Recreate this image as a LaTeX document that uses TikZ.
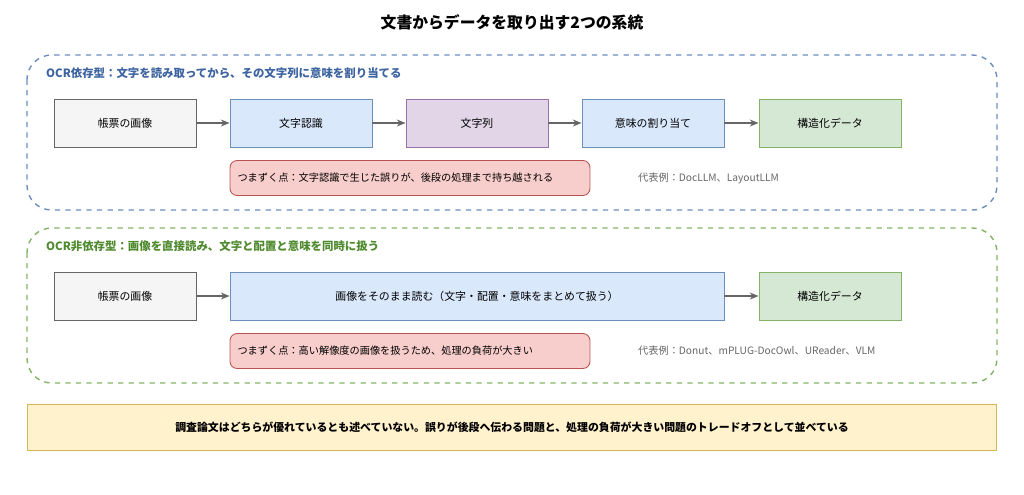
\documentclass[tikz,border=0pt]{standalone}
\usepackage{fontspec}
\setmainfont{Noto Sans CJK JP}
\usetikzlibrary{arrows.meta}
\definecolor{grayF}{HTML}{F5F5F5}\definecolor{grayD}{HTML}{666666}
\definecolor{blueF}{HTML}{DAE8FC}\definecolor{blueD}{HTML}{6C8EBF}
\definecolor{purpF}{HTML}{E1D5E7}\definecolor{purpD}{HTML}{9673A6}
\definecolor{grnF}{HTML}{D5E8D4}\definecolor{grnD}{HTML}{82B366}
\definecolor{redF}{HTML}{F8CECC}\definecolor{redD}{HTML}{B85450}
\definecolor{yelF}{HTML}{FFF2CC}\definecolor{yelD}{HTML}{D6B656}
\definecolor{blueT}{HTML}{3D64A0}\definecolor{grnT}{HTML}{4F8A2E}

\begin{document}
\begin{tikzpicture}[x=0.02cm,y=-0.02cm,
  stage/.style={draw,line width=0.5pt,minimum width=2.84cm,minimum height=0.96cm,
    inner sep=0pt,font=\fontsize{6.2}{7}\selectfont},
  pit/.style={draw=redD,fill=redF,rounded corners=4pt,line width=0.5pt,
    minimum width=7.2cm,minimum height=0.7cm,text width=6.9cm,align=left,
    font=\fontsize{5.8}{7}\selectfont},
  frame/.style={dashed,rounded corners=14pt,line width=0.8pt},
  note/.style={anchor=west,text=grayD,font=\fontsize{5.8}{7}\selectfont},
  lab/.style={anchor=west,font=\bfseries\fontsize{6.5}{8}\selectfont},
  arr/.style={-{Stealth[length=5pt,width=4pt]},draw=grayD,line width=0.6pt}]
  \useasboundingbox (0,0) rectangle (1024,494);

  \node[font=\bfseries\fontsize{9}{11}\selectfont] (title) at (512,22) {文書からデータを取り出す2つの系統};

  % OCR dependent
  \draw[frame,draw=blueD] (27,55) rectangle (997,210);
  \node[lab,text=blueT] (lab1) at (40,73) {OCR依存型：文字を読み取ってから、その文字列に意味を割り当てる};
  \node[stage,draw=grayD,fill=grayF] (img1) at (125,123) {帳票の画像};
  \node[stage,draw=blueD,fill=blueF] (rec) at (301,123) {文字認識};
  \node[stage,draw=purpD,fill=purpF] (str) at (477,123) {文字列};
  \node[stage,draw=blueD,fill=blueF] (sem) at (653,123) {意味の割り当て};
  \node[stage,draw=grnD,fill=grnF] (out1) at (830,123) {構造化データ};
  \draw[arr] (img1) -- (rec);
  \draw[arr] (rec) -- (str);
  \draw[arr] (str) -- (sem);
  \draw[arr] (sem) -- (out1);
  \node[pit] (pit1) at (410,178) {つまずく点：文字認識で生じた誤りが、後段の処理まで持ち越される};
  \node[note] (ex1) at (632,178) {代表例：DocLLM、LayoutLLM};

  % OCR free
  \draw[frame,draw=grnD] (27,228) rectangle (997,383);
  \node[lab,text=grnT] (lab2) at (40,246) {OCR非依存型：画像を直接読み、文字と配置と意味を同時に扱う};
  \node[stage,draw=grayD,fill=grayF] (img2) at (125,296) {帳票の画像};
  \node[stage,draw=blueD,fill=blueF,minimum width=9.88cm] (read) at (477,296) {画像をそのまま読む（文字・配置・意味をまとめて扱う）};
  \node[stage,draw=grnD,fill=grnF] (out2) at (830,296) {構造化データ};
  \draw[arr] (img2) -- (read);
  \draw[arr] (read) -- (out2);
  \node[pit] (pit2) at (410,351) {つまずく点：高い解像度の画像を扱うため、処理の負荷が大きい};
  \node[note] (ex2) at (632,351) {代表例：Donut、mPLUG-DocOwl、UReader、VLM};

  % conclusion
  \node[draw=yelD,fill=yelF,line width=0.5pt,minimum width=19.4cm,minimum height=0.92cm,
    font=\bfseries\fontsize{6.2}{7}\selectfont] (concl) at (512,427)
    {調査論文はどちらが優れているとも述べていない。誤りが後段へ伝わる問題と、処理の負荷が大きい問題のトレードオフとして並べている};
\end{tikzpicture}
\end{document}
